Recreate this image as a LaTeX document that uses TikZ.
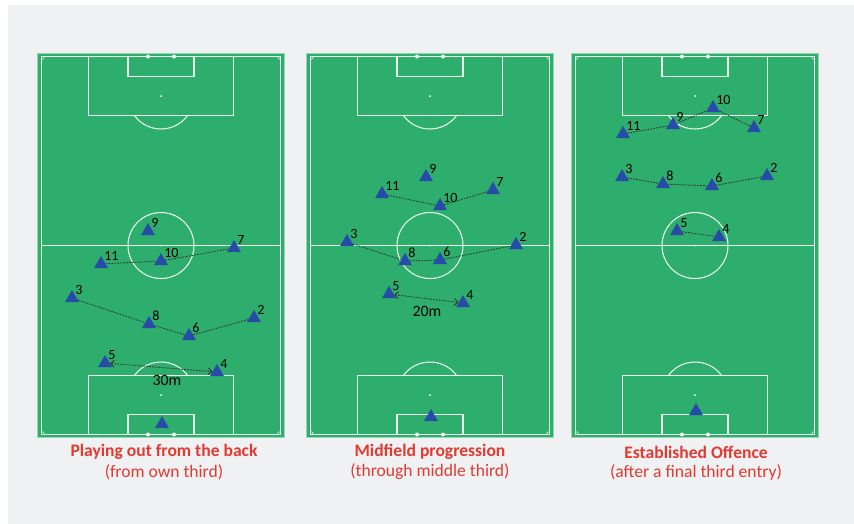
\documentclass[tikz,border=0pt]{standalone}
\usepackage{fontspec}
\setmainfont{Carlito}
\usetikzlibrary{shapes.geometric,arrows.meta}

\definecolor{bggrey}{RGB}{240,241,243}
\definecolor{pitchgreen}{RGB}{45,174,108}
\definecolor{pitchedge}{RGB}{150,214,178}
\definecolor{playerblue}{RGB}{40,74,168}
\definecolor{titlered}{RGB}{226,58,48}

\tikzset{
  player/.style={regular polygon, regular polygon sides=3, fill=playerblue,
    inner sep=0pt, minimum size=0.48cm, label distance=0.5pt},
  num/.style={font=\fontsize{12}{12}\selectfont, inner sep=0pt},
  pass/.style={black!80, line width=0.75pt, dash pattern=on 1.4pt off 1.1pt},
  run/.style={pass, {Straight Barb[length=3pt,width=6pt]}-{Straight Barb[length=3pt,width=6pt]}},
  pline/.style={white!92!green, line width=0.9pt},
  metre/.style={font=\fontsize{13.5}{14}\selectfont, inner sep=0pt},
  phase/.style={font=\fontsize{15}{18}\selectfont\bfseries, text=titlered, inner sep=0pt},
  zone/.style={font=\fontsize{15}{18}\selectfont, text=titlered, inner sep=0pt},
}

% one pitch, #1 = left edge
\newcommand{\pitch}[1]{%
\begin{scope}[shift={(#1,53)}]
\fill[pitchgreen] (0,0) rectangle (248,385);
\draw[pitchedge, line width=0.8pt] (0.5,0.5) rectangle (247.5,384.5);
\draw[pline] (4.5,3.5) rectangle (243.5,381.5);
\draw[pline] (4.5,192.5) -- (243.5,192.5);
\draw[pline] (124,192.5) circle[radius=33];
\fill[white] (124,192.5) circle[radius=1];
% top end
\draw[pline] (51.5,3.5) rectangle (196.5,62.5);
\draw[pline] (91,3.5) rectangle (157,23.5);
\fill[white] (124,43) circle[radius=1];
\draw[pline] (124,43) ++(36.2:33) arc[start angle=36.2, end angle=143.8, radius=33];
% bottom end
\draw[pline] (51.5,322.5) rectangle (196.5,381.5);
\draw[pline] (91,361.5) rectangle (157,381.5);
\fill[white] (124,342) circle[radius=1];
\draw[pline] (124,342) ++(216.2:33) arc[start angle=216.2, end angle=323.8, radius=33];
% posts and corners
\fill[white] (111,3.5) circle[radius=2] (137,3.5) circle[radius=2]
  (111,381.5) circle[radius=2] (137,381.5) circle[radius=2];
\draw[pline, line width=0.5pt] (7.5,3.5) arc[start angle=0, end angle=90, radius=3];
\draw[pline, line width=0.5pt] (243.5,6.5) arc[start angle=90, end angle=180, radius=3];
\draw[pline, line width=0.5pt] (4.5,378.5) arc[start angle=270, end angle=360, radius=3];
\draw[pline, line width=0.5pt] (240.5,381.5) arc[start angle=180, end angle=270, radius=3];
\end{scope}}

\begin{document}
\begin{tikzpicture}[x=0.03cm, y=-0.03cm]
\useasboundingbox (0,0) rectangle (854,524);
\fill[white] (0,0) rectangle (854,524);
\fill[bggrey] (8,5) rectangle (854,524);

\pitch{37}
\pitch{306}
\pitch{571}

% playing out from the back
\node[player, label={[num]north east:9}] (a9) at (148,231) {};
\node[player, label={[num]north east:7}] (a7) at (234,248) {};
\node[player, label={[num]north east:11}] (a11) at (101,264) {};
\node[player, label={[num]north east:10}] (a10) at (161,261) {};
\node[player, label={[num]north east:3}] (a3) at (72,298) {};
\node[player, label={[num]north east:8}] (a8) at (149,324) {};
\node[player, label={[num]north east:6}] (a6) at (189,336) {};
\node[player, label={[num]north east:2}] (a2) at (254,318) {};
\node[player, label={[num]north east:5}] (a5) at (105,363) {};
\node[player, label={[num]north east:4}] (a4) at (217,372) {};
\node[player] (agk) at (162,424) {};
\draw[pass] (a11) -- (a10) -- (a7);
\draw[pass] (a3) -- (a8) -- (a6) -- (a2);
\draw[run] (a5) -- (a4);
\node[metre] (d30) at (167,380) {30m};

% midfield progression
\node[player, label={[num]north east:9}] (b9) at (426,177) {};
\node[player, label={[num]north east:11}] (b11) at (382,194) {};
\node[player, label={[num]north east:10}] (b10) at (440,206) {};
\node[player, label={[num]north east:7}] (b7) at (493,190) {};
\node[player, label={[num]north east:3}] (b3) at (347,242) {};
\node[player, label={[num]north east:2}] (b2) at (516,245) {};
\node[player, label={[num]north east:8}] (b8) at (405,261) {};
\node[player, label={[num]north east:6}] (b6) at (440,260) {};
\node[player, label={[num]north east:5}] (b5) at (389,294) {};
\node[player, label={[num]north east:4}] (b4) at (463,303) {};
\node[player] (bgk) at (431,417) {};
\draw[pass] (b11) -- (b10) -- (b7);
\draw[pass] (b3) -- (b8) -- (b6) -- (b2);
\draw[run] (b5) -- (b4);
\node[metre] (d20) at (427,311) {20m};

% established offence
\node[player, label={[num]north east:10}] (c10) at (713,108) {};
\node[player, label={[num]north east:9}] (c9) at (673,125) {};
\node[player, label={[num]north east:11}] (c11) at (623,134) {};
\node[player, label={[num]north east:7}] (c7) at (754,128) {};
\node[player, label={[num]north east:3}] (c3) at (622,177) {};
\node[player, label={[num]north east:8}] (c8) at (663,184) {};
\node[player, label={[num]north east:6}] (c6) at (712,186) {};
\node[player, label={[num]north east:2}] (c2) at (767,176) {};
\node[player, label={[num]north east:5}] (c5) at (677,231) {};
\node[player, label={[num]north east:4}] (c4) at (719,237) {};
\node[player] (cgk) at (696,411) {};
\draw[pass] (c11) -- (c9) -- (c10) -- (c7);
\draw[pass] (c3) -- (c8) -- (c6) -- (c2);
\draw[pass] (c5) -- (c4);

% captions
\node[phase] (t1) at (164,452) {Playing out from the back};
\node[zone] (s1) at (164,472) {(from own third)};
\node[phase] (t2) at (430,452) {Midfield progression};
\node[zone] (s2) at (430,472) {(through middle third)};
\node[phase] (t3) at (696,452) {Established Offence};
\node[zone] (s3) at (696,472) {(after a final third entry)};
\end{tikzpicture}
\end{document}
